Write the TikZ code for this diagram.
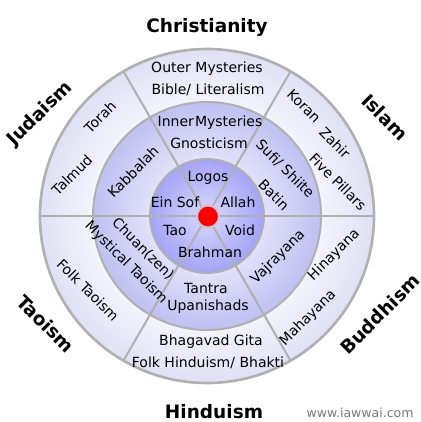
\documentclass[tikz,border=0pt]{standalone}
\usepackage{fontspec}
\setmainfont{DejaVu Sans}
\definecolor{ringAout}{HTML}{E0E0F6}
\definecolor{ringAin}{HTML}{F4F4FC}
\definecolor{ringBout}{HTML}{C0C0F2}
\definecolor{ringBin}{HTML}{E2E2FA}
\definecolor{ringCout}{HTML}{A4A4F6}
\definecolor{ringCin}{HTML}{DADAFF}
\definecolor{lineGray}{HTML}{B0B0B0}
\definecolor{dotRim}{HTML}{C4C4D4}
\definecolor{urlGray}{HTML}{7A7A7A}
\tikzset{
  ringtext/.style={font=\fontsize{14}{16}\selectfont, text=black, inner sep=0pt},
  faith/.style={font=\fontsize{18.5}{21}\bfseries\selectfont, text=black, inner sep=0pt},
  spoke/.style={draw=lineGray, line width=2pt},
  rim/.style={draw=lineGray, line width=2pt},
  reddot/.style={circle, fill=red, draw=dotRim, line width=2pt, minimum size=22pt, inner sep=0pt},
}
\begin{document}
\begin{tikzpicture}[x=1pt,y=-1pt]
\useasboundingbox (0,0) rectangle (420,422);
\fill[white] (0,0) rectangle (420,422);
\coordinate (C) at (207,216);
% outer ring gradient
\foreach \r in {168,167,...,115}{
  \pgfmathtruncatemacro\p{(\r-114)/54*100}
  \fill[ringAout!\p!ringAin] (C) circle[radius=\r pt];
}
% middle ring gradient
\foreach \r in {114,113,...,58}{
  \pgfmathtruncatemacro\p{(\r-57)/57*100}
  \fill[ringBout!\p!ringBin] (C) circle[radius=\r pt];
}
% inner disk gradient
\foreach \r in {57,56,...,1}{
  \pgfmathtruncatemacro\p{\r/57*100}
  \fill[ringCout!\p!ringCin] (C) circle[radius=\r pt];
}
% spokes
\foreach \a in {0,60,...,300}{
  \draw[spoke] (C) -- ++(\a:167pt);
}
% rims
\draw[rim, line width=2.6pt] (C) circle[radius=167pt];
\draw[rim] (C) circle[radius=114pt];
\draw[rim] (C) circle[radius=57pt];
\node[reddot] (core) at (208,216.5) {};

% faith labels
\node[faith] (chr) at (207,27) {Christianity};
\node[faith] (hin) at (214,412) {Hinduism};
\node[faith, rotate=45] (jud) at (40,114) {Judaism};
\node[faith, rotate=-45] (isl) at (385,117) {Islam};
\node[faith, rotate=-45] (tao) at (46,324) {Taoism};
\node[faith, rotate=45] (bud) at (380,314) {Buddhism};

% outer ring
\node[ringtext] (om) at (207,69) {Outer Mysteries};
\node[ringtext] (bl) at (208,90) {Bible/ Literalism};
\node[ringtext, rotate=45] (torah) at (100,117) {Torah};
\node[ringtext, rotate=45] (talmud) at (72,175) {Talmud};
\node[ringtext, rotate=-45] (koran) at (304,106) {Koran};
\node[ringtext, rotate=-45] (zahir) at (335,143) {Zahir};
\node[ringtext, rotate=-45] (five) at (338,182) {Five Pillars};
\node[ringtext, rotate=-45] (folkt) at (88,290) {Folk Taoism};
\node[ringtext, rotate=45] (hina) at (334,255) {Hinayana};
\node[ringtext, rotate=45] (maha) at (308,318) {Mahayana};
\node[ringtext] (bg) at (211,342) {Bhagavad Gita};
\node[ringtext] (fh) at (208,363) {Folk Hinduism/ Bhakti};

% middle ring
\node[ringtext] (im) at (210,123) {Inner\hspace{0.08em}Mysteries};
\node[ringtext] (gn) at (209,143) {Gnosticism};
\node[ringtext, rotate=45] (kab) at (133,172) {Kabbalah};
\node[ringtext, rotate=-45] (sufi) at (285,169) {Sufi/ Shiite};
\node[ringtext, rotate=-45] (batin) at (274,195) {Batin};
\node[ringtext, rotate=-45] (chuan) at (143,249) {Chuan(zen)};
\node[ringtext, rotate=-45] (myst) at (126,263) {Mystical Taoism};
\node[ringtext, rotate=45] (vaj) at (278,257) {Vajrayana};
\node[ringtext] (tantra) at (206,288) {Tantra};
\node[ringtext] (upa) at (208,307) {Upanishads};

% inner disk
\node[ringtext] (logos) at (208,178) {Logos};
\node[ringtext] (einsof) at (175,202) {Ein Sof};
\node[ringtext] (allah) at (238,202) {Allah};
\node[ringtext] (taon) at (175,230) {Tao};
\node[ringtext] (void) at (240,230) {Void};
\node[ringtext] (brah) at (210,252) {Brahman};

\node[font=\fontsize{12.5}{14}\selectfont, text=urlGray, inner sep=0pt] (url) at (360,413) {www.iawwai.com};
\end{tikzpicture}
\end{document}
